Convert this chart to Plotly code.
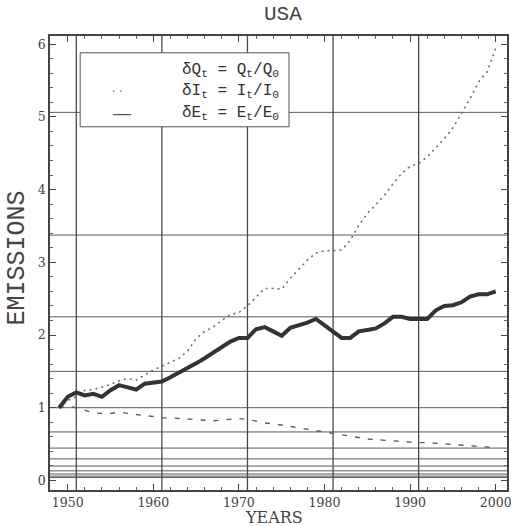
import plotly.graph_objects as go

years = list(range(1949, 2001))

delta_Q = [1.00, 1.15, 1.21, 1.17, 1.19, 1.15, 1.24, 1.31, 1.28, 1.25,
           1.33, 1.35, 1.36, 1.42, 1.48, 1.55, 1.61, 1.68, 1.76, 1.84,
           1.91, 1.96, 1.96, 2.08, 2.11, 2.05, 1.99, 2.10, 2.13, 2.17,
           2.22, 2.13, 2.04, 1.96, 1.96, 2.05, 2.07, 2.09, 2.16, 2.25,
           2.25, 2.22, 2.22, 2.22, 2.34, 2.40, 2.41, 2.45, 2.53, 2.56,
           2.56, 2.60]

delta_I = [1.00, 1.10, 1.15, 1.24, 1.25, 1.28, 1.32, 1.37, 1.40, 1.38,
           1.45, 1.52, 1.57, 1.63, 1.68, 1.78, 1.95, 2.05, 2.11, 2.20,
           2.28, 2.31, 2.40, 2.52, 2.64, 2.64, 2.63, 2.78, 2.90, 3.03,
           3.13, 3.16, 3.16, 3.17, 3.30, 3.51, 3.67, 3.80, 3.92, 4.08,
           4.22, 4.32, 4.36, 4.45, 4.58, 4.70, 4.85, 5.05, 5.25, 5.48,
           5.62, 5.94]

delta_E = [1.00, 1.02, 1.00, 0.97, 0.93, 0.92, 0.92, 0.94, 0.92, 0.90,
           0.89, 0.88, 0.86, 0.86, 0.85, 0.84, 0.83, 0.82, 0.82, 0.83,
           0.84, 0.85, 0.84, 0.81, 0.79, 0.78, 0.76, 0.75, 0.73, 0.70,
           0.68, 0.67, 0.65, 0.63, 0.60, 0.58, 0.57, 0.56, 0.55, 0.54,
           0.53, 0.52, 0.52, 0.52, 0.51, 0.50, 0.49, 0.48, 0.48, 0.47,
           0.46, 0.45]

x_ticks = [1950, 1960, 1970, 1980, 1990, 2000]
y_ticks = [0, 1, 2, 3, 4, 5, 6]
v_grid = [1951, 1961, 1971, 1981, 1991]
h_grid = [1.5 ** k for k in range(-8, 5)]

legend_labels = [
    "δQ<sub>t</sub> = Q<sub>t</sub>/Q<sub>0</sub>",
    "δI<sub>t</sub> = I<sub>t</sub>/I<sub>0</sub>",
    "δE<sub>t</sub> = E<sub>t</sub>/E<sub>0</sub>",
]

MONO = "Liberation Mono, Courier New, monospace"

fig = go.Figure()
fig.add_trace(go.Scatter(x=years, y=delta_I, mode="lines",
                         line=dict(color="#6e6e6e", width=1.6, dash="2px,4px"),
                         showlegend=False))
fig.add_trace(go.Scatter(x=years, y=delta_E, mode="lines",
                         line=dict(color="#5e5e5e", width=1.4, dash="5px,8px"),
                         showlegend=False))
fig.add_trace(go.Scatter(x=years, y=delta_Q, mode="lines",
                         line=dict(color="#333333", width=4),
                         showlegend=False))

shapes = []
for g in h_grid:
    shapes.append(dict(type="line", xref="paper", yref="y", x0=0, x1=1, y0=g, y1=g,
                       line=dict(color="#5a5a5a", width=1), layer="below"))
for g in v_grid:
    shapes.append(dict(type="line", xref="x", yref="paper", x0=g, x1=g, y0=0, y1=1,
                       line=dict(color="#4a4a4a", width=1.3), layer="below"))
# legend box
shapes.append(dict(type="rect", xref="paper", yref="paper", x0=0.066, x1=0.523,
                   y0=0.80, y1=0.963, fillcolor="white",
                   line=dict(color="#555555", width=1), layer="above"))
fig.update_layout(shapes=shapes)

annotations = []
rows_y = [0.925, 0.877, 0.830]
for lab, yy in zip(legend_labels, rows_y):
    annotations.append(dict(text=lab, xref="paper", yref="paper", x=0.505, y=yy,
                            xanchor="right", yanchor="middle", showarrow=False,
                            font=dict(family=MONO, size=16, color="#333")))
annotations.append(dict(text="··", xref="paper", yref="paper", x=0.147, y=rows_y[1],
                        xanchor="center", yanchor="middle", showarrow=False,
                        font=dict(family=MONO, size=12, color="#999")))
annotations.append(dict(text="—", xref="paper", yref="paper", x=0.158, y=rows_y[2],
                        xanchor="center", yanchor="middle", showarrow=False,
                        font=dict(family="DejaVu Sans", size=20, color="#555")))
annotations.append(dict(text="USA", xref="paper", yref="paper", x=0.51, y=1.0,
                        yshift=22, xanchor="center", yanchor="middle", showarrow=False,
                        font=dict(family=MONO, size=21, color="#444")))
annotations.append(dict(text="YEARS", xref="paper", yref="paper", x=0.49, y=0,
                        yshift=-27, xanchor="center", yanchor="middle", showarrow=False,
                        font=dict(family="DejaVu Serif", size=16, color="#444")))
annotations.append(dict(text="EMISSIONS", xref="paper", yref="paper", x=0, y=0.51,
                        xshift=-33, textangle=-90, xanchor="center", yanchor="middle",
                        showarrow=False,
                        font=dict(family=MONO, size=25, color="#444")))
fig.update_layout(annotations=annotations)

fig.update_xaxes(range=[1947.93, 2001.32], tickvals=x_ticks,
                 ticktext=[str(t) for t in x_ticks], automargin=False,
                 ticklabeloverflow="allow",
                 showgrid=False, zeroline=False, showline=True, mirror="ticks",
                 linecolor="#444", linewidth=1.5, ticks="inside", ticklen=6,
                 tickcolor="#444", tickfont=dict(family="DejaVu Serif", size=12.5, color="#444"),
                 minor=dict(tick0=1950, dtick=2, ticks="inside", ticklen=3, tickcolor="#666"))
fig.update_yaxes(range=[-0.132, 6.113], tickvals=y_ticks, automargin=False,
                 ticklabeloverflow="allow",
                 showgrid=False, zeroline=False, showline=True, mirror="ticks",
                 linecolor="#444", linewidth=1.5, ticks="inside", ticklen=6,
                 tickcolor="#444", tickfont=dict(family="DejaVu Serif", size=12.5, color="#444"),
                 minor=dict(tick0=0, dtick=0.2, ticks="inside", ticklen=3, tickcolor="#666"))

fig.update_layout(width=511, height=526, margin=dict(l=50, r=4, t=36, b=36),
                  paper_bgcolor="white", plot_bgcolor="white", showlegend=False)

fig.write_html("out.html", config={"displayModeBar": False},
               post_script="document.body.style.margin='0px';")
